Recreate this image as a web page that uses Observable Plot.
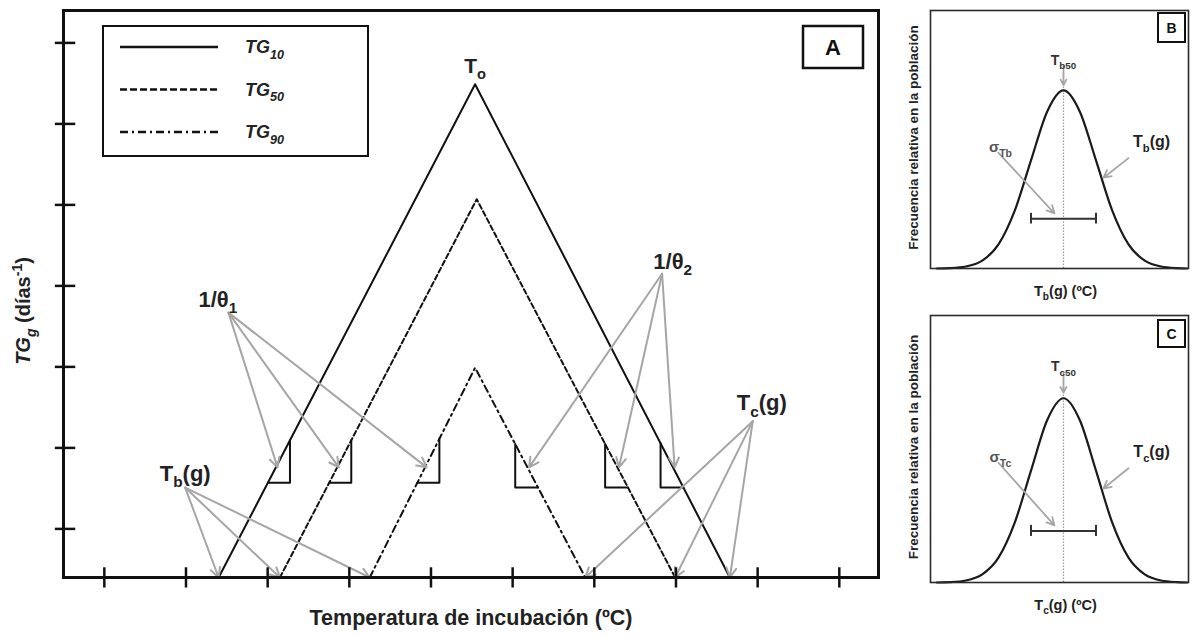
<!DOCTYPE html>
<html>
<head>
<meta charset="utf-8">
<script src="https://cdn.jsdelivr.net/npm/d3@7"></script>
<script src="https://cdn.jsdelivr.net/npm/@observablehq/plot@0.6"></script>
<style>
  html, body { margin: 0; padding: 0; background: #fff; }
  #fig { position: relative; width: 1195px; height: 637px; overflow: hidden; background: #fff; }
  #fig > svg { position: absolute; }
</style>
</head>
<body>
<div id="fig"></div>
<script>
// ---------- Panel A: germination rate (TG) vs incubation temperature ----------
const series    = ["TG_{10}", "TG_{50}", "TG_{90}"];
const baseTemp  = [2.40, 3.15, 4.25];   // Tb(g): rate reaches zero on the cold side
const optTemp   = [5.54, 5.56, 5.54];   // To: optimum temperature
const ceilTemp  = [8.66, 7.99, 6.89];   // Tc(g): rate reaches zero on the warm side
const peakRate  = [6.09, 4.67, 2.59];   // TG at To
const xTicks    = [1, 2, 3, 4, 5, 6, 7, 8, 9, 10];
const yTicks    = [0.6, 1.6, 2.6, 3.6, 4.6, 5.6, 6.6];

// annotation labels and the points their arrows leave from
const labelsA = [
  {label: "1/θ_{1}",  x: 2.39, y: 3.43},
  {label: "1/θ_{2}",  x: 7.96, y: 3.90},
  {label: "T_{b}(g)", x: 1.99, y: 1.28},
  {label: "T_{c}(g)", x: 9.05, y: 2.15}
];
const theta1From = {x: 2.52, y: 3.27};
const theta2From = {x: 7.83, y: 3.75};
const tbFrom     = {x: 1.99, y: 1.11};
const tcFrom     = {x: 8.94, y: 1.93};
const slopeLevelRise = 1.17;   // where the right-angle slope marks sit
const slopeLevelFall = 1.11;
const arrowLevel     = 1.36;   // where the 1/θ arrows touch the lines

// ---------- Panels B and C: distribution of Tb(g) / Tc(g) in the population ----------
const zGrid = [-3.9, -3.5, -3, -2.5, -2, -1.5, -1, -0.5, 0, 0.5, 1, 1.5, 2, 2.5, 3, 3.5, 3.8];
const freq  = [0, 0.002, 0.011, 0.044, 0.135, 0.325, 0.607, 0.882, 1, 0.882, 0.607, 0.325, 0.135, 0.044, 0.011, 0.002, 0];
const sigma = 1;
const sigmaBarY = 0.28;
const distLabels = {
  mid:   {x: 0,     y: 1.17},
  sig:   {x: -1.94, y: 0.68},
  curve: {x: 2.71,  y: 0.71}
};
const sigArrow   = {x1: -2.0, y1: 0.65, x2: -0.28, y2: 0.31};
const curveArrow = {x1: 2.0,  y1: 0.62, x2: 1.23,  y2: 0.51};
const midArrow   = {x1: 0,    y1: 1.135, x2: 0,    y2: 1.03};

// ---------- styling ----------
const FONT = "'Liberation Sans', Arial, Helvetica, sans-serif";
const INK = "#111";
const GREY = "#a6a6a6";
const lineDash = [null, "5,3", "7,4,2,4"];
const legendDash = [null, "7,3", "8,4,2,4"];

// geometry helpers for the triangular rate model
const riseX = (i, y) => baseTemp[i] + y * (optTemp[i] - baseTemp[i]) / peakRate[i];
const fallX = (i, y) => ceilTemp[i] - y * (ceilTemp[i] - optTemp[i]) / peakRate[i];
const riseY = (i, x) => peakRate[i] * (x - baseTemp[i]) / (optTemp[i] - baseTemp[i]);
const fallY = (i, x) => peakRate[i] * (ceilTemp[i] - x) / (ceilTemp[i] - optTemp[i]);

const triangle = i => [
  {x: baseTemp[i], y: 0},
  {x: optTemp[i], y: peakRate[i]},
  {x: ceilTemp[i], y: 0}
];

// right-angle marks that show the slope of each branch
const slopeMarks = series.flatMap((s, i) => {
  const lx = riseX(i, slopeLevelRise), lc = lx + 0.27;
  const rx = fallX(i, slopeLevelFall), rc = rx - 0.28;
  return [
    {id: `r${i}`, x: lx, y: slopeLevelRise},
    {id: `r${i}`, x: lc, y: slopeLevelRise},
    {id: `r${i}`, x: lc, y: riseY(i, lc)},
    {id: `f${i}`, x: rx, y: slopeLevelFall},
    {id: `f${i}`, x: rc, y: slopeLevelFall},
    {id: `f${i}`, x: rc, y: fallY(i, rc)}
  ];
});

const arrowsA = [
  ...series.map((s, i) => ({x1: theta1From.x, y1: theta1From.y, x2: riseX(i, arrowLevel) + 0.02, y2: arrowLevel})),
  ...series.map((s, i) => ({x1: theta2From.x, y1: theta2From.y, x2: fallX(i, arrowLevel) + 0.02, y2: arrowLevel})),
  ...series.map((s, i) => ({x1: tbFrom.x, y1: tbFrom.y, x2: baseTemp[i], y2: 0})),
  ...series.map((s, i) => ({x1: tcFrom.x, y1: tcFrom.y, x2: ceilTemp[i], y2: 0}))
];

const textStyle = {fontFamily: FONT, fontWeight: "bold", fill: "#222"};

const plotA = Plot.plot({
  width: 895, height: 637,
  marginLeft: 63, marginRight: 17, marginTop: 10, marginBottom: 60,
  x: {domain: [0.5, 10.48], axis: null},
  y: {domain: [0, 7], axis: null},
  style: {fontFamily: FONT, background: "transparent", overflow: "visible"},
  marks: [
    ...series.map((s, i) => Plot.line(triangle(i), {
      x: "x", y: "y", stroke: INK, strokeWidth: 2, strokeDasharray: lineDash[i] ?? undefined
    })),
    Plot.line(slopeMarks, {x: "x", y: "y", z: "id", stroke: INK, strokeWidth: 2}),
    Plot.arrow(arrowsA, {x1: "x1", y1: "y1", x2: "x2", y2: "y2", stroke: GREY, strokeWidth: 2, headAngle: 55}),
    Plot.ruleX(xTicks, {x: d => d, y1: -0.13, y2: 0.12, stroke: INK, strokeWidth: 2.5}),
    Plot.ruleY(yTicks, {y: d => d, x1: 0.40, x2: 0.65, stroke: INK, strokeWidth: 2.5}),
    Plot.frame({stroke: INK, strokeWidth: 3}),
    Plot.text(labelsA, {x: "x", y: "y", text: "label", fontSize: 22, ...textStyle}),
    Plot.text([{label: "T_{o}", x: optTemp[0], y: peakRate[0]}], {x: "x", y: "y", text: "label", dy: -18, fontSize: 21, ...textStyle}),
    Plot.text(["Temperatura de incubación (ºC)"], {frameAnchor: "bottom", textAnchor: "middle", text: d => d, dy: 47, fontSize: 21.5, ...textStyle}),
    Plot.text(["*TG_{g}* (días^{-1})"], {frameAnchor: "left", textAnchor: "middle", text: d => d, rotate: -90, dx: -40, dy: 17, fontSize: 20, ...textStyle})
  ]
});

function distPanel(k, height, marginBottom) {
  const bell = zGrid.map((z, i) => ({x: z * sigma, y: freq[i]}));
  return Plot.plot({
    width: 300, height,
    marginLeft: 35, marginRight: 7, marginTop: 10, marginBottom,
    x: {domain: [-4.092, 3.846], axis: null},
    y: {domain: [0, 1.449], axis: null},
    style: {fontFamily: FONT, background: "transparent", overflow: "visible"},
    marks: [
      Plot.ruleX([0], {y1: 0, y2: 1.1, stroke: "#9a9a9a", strokeWidth: 1.2, strokeDasharray: "1.5,1.5"}),
      Plot.line(bell, {x: "x", y: "y", curve: "monotone-x", stroke: "#1a1a1a", strokeWidth: 2.2}),
      Plot.ruleY([sigmaBarY], {x1: -sigma, x2: sigma, stroke: "#333", strokeWidth: 2}),
      Plot.ruleX([-sigma, sigma], {x: d => d, y1: sigmaBarY - 0.03, y2: sigmaBarY + 0.03, stroke: "#333", strokeWidth: 2}),
      Plot.arrow([sigArrow, curveArrow, midArrow], {x1: "x1", y1: "y1", x2: "x2", y2: "y2", stroke: GREY, strokeWidth: 1.8, headLength: 7, headAngle: 55}),
      Plot.frame({stroke: "#2a2a2a", strokeWidth: 1.6}),
      Plot.text([{label: `T_{${k}50}`, ...distLabels.mid}], {x: "x", y: "y", text: "label", fontSize: 14, fontFamily: FONT, fontWeight: "bold", fill: "#333"}),
      Plot.text([{label: `σ_{T${k}}`, ...distLabels.sig}], {x: "x", y: "y", text: "label", fontSize: 15, fontFamily: FONT, fontWeight: "bold", fill: "#555"}),
      Plot.text([{label: `T_{${k}}(g)`, ...distLabels.curve}], {x: "x", y: "y", text: "label", fontSize: 16, ...textStyle}),
      Plot.text([`T_{${k}}(g) (ºC)`], {frameAnchor: "bottom", textAnchor: "middle", text: d => d, dx: 6, dy: 27, fontSize: 14.5, ...textStyle}),
      Plot.text(["Frecuencia relativa en la población"], {frameAnchor: "left", textAnchor: "middle", text: d => d, rotate: -90, dx: -17, dy: -2, fontSize: 13.5, ...textStyle})
    ]
  });
}

const plotB = distPanel("b", 305, 37);
const plotC = distPanel("c", 332, 55);

// ---------- overlay: legend and panel letters ----------
const overlay = d3.create("svg")
  .attr("width", 1195).attr("height", 637)
  .attr("font-family", FONT)
  .style("left", "0px").style("top", "0px");

const legend = overlay.append("g");
legend.append("rect").attr("x", 103).attr("y", 26).attr("width", 265).attr("height", 130)
  .attr("fill", "#fff").attr("stroke", INK).attr("stroke-width", 2);
series.forEach((s, i) => {
  const y = 47 + i * 42.5;
  legend.append("line").attr("x1", 120).attr("x2", 218).attr("y1", y).attr("y2", y)
    .attr("stroke", INK).attr("stroke-width", 2.5)
    .attr("stroke-dasharray", legendDash[i]);
  legend.append("text").attr("x", 245).attr("y", y).attr("dy", "0.35em")
    .attr("font-size", 18).attr("font-weight", "bold").attr("font-style", "italic")
    .attr("fill", "#222").text(s);
});

const letters = [
  {t: "A", x: 803, y: 26, w: 60, h: 42, fs: 22, sw: 2.5},
  {t: "B", x: 1158, y: 13, w: 27, h: 29, fs: 14, sw: 2},
  {t: "C", x: 1158, y: 320, w: 27, h: 27, fs: 14, sw: 2}
];
letters.forEach(L => {
  overlay.append("rect").attr("x", L.x).attr("y", L.y).attr("width", L.w).attr("height", L.h)
    .attr("fill", "#fff").attr("stroke", INK).attr("stroke-width", L.sw);
  overlay.append("text").attr("x", L.x + L.w / 2).attr("y", L.y + L.h / 2).attr("dy", "0.36em")
    .attr("text-anchor", "middle").attr("font-size", L.fs).attr("font-weight", "bold")
    .attr("fill", "#111").text(L.t);
});

// ---------- assemble ----------
const fig = document.getElementById("fig");
[[plotA, 0, 0], [plotB, 895, 0], [plotC, 895, 305]].forEach(([p, left, top]) => {
  p.style.left = left + "px";
  p.style.top = top + "px";
  fig.appendChild(p);
});
fig.appendChild(overlay.node());

// Turn "_{..}" into subscripts, "^{..}" into superscripts and "*..*" into italics.
function richText(root) {
  const NS = "http://www.w3.org/2000/svg";
  root.querySelectorAll("text").forEach(t => {
    const s = t.textContent;
    if (!/[_^]\{|\*/.test(s)) return;
    const parts = [];
    s.split("*").forEach((chunk, ci) => {
      const italic = ci % 2 === 1;
      const re = /([_^])\{([^}]*)\}/g;
      let last = 0, m;
      while ((m = re.exec(chunk))) {
        if (m.index > last) parts.push({text: chunk.slice(last, m.index), kind: null, italic});
        parts.push({text: m[2], kind: m[1] === "_" ? "sub" : "sup", italic});
        last = re.lastIndex;
      }
      if (last < chunk.length) parts.push({text: chunk.slice(last), kind: null, italic});
    });
    while (t.firstChild) t.removeChild(t.firstChild);
    let offset = 0;
    parts.forEach(p => {
      if (!p.text) return;
      const ts = document.createElementNS(NS, "tspan");
      ts.textContent = p.text;
      const target = p.kind === "sub" ? 0.3 : p.kind === "sup" ? -0.42 : 0;
      const scale = p.kind ? 0.7 : 1;
      const d = target - offset;
      if (d) ts.setAttribute("dy", (d / scale).toFixed(3) + "em");
      if (p.kind) ts.setAttribute("font-size", "70%");
      if (p.italic) ts.setAttribute("font-style", "italic");
      offset = target;
      t.appendChild(ts);
    });
  });
}
richText(fig);
</script>
</body>
</html>
